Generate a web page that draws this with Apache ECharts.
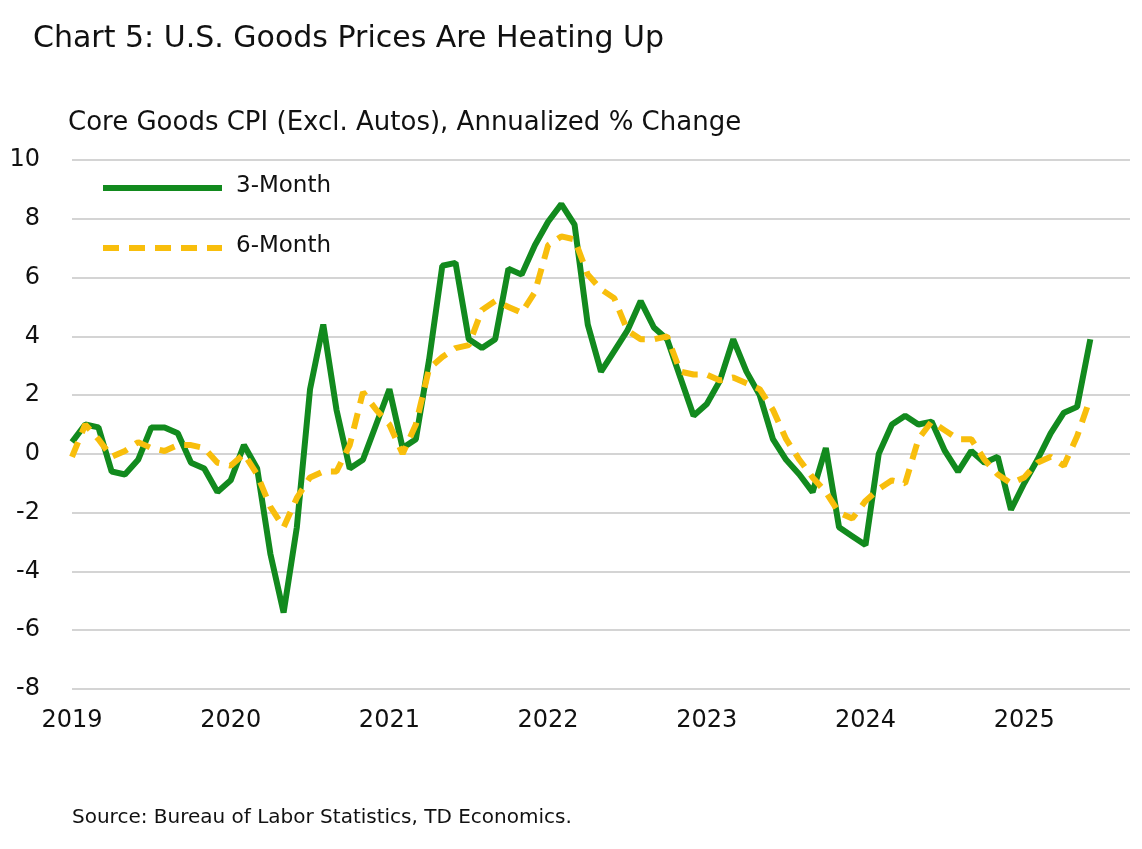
<!DOCTYPE html>
<html><head><meta charset="utf-8">
<script src="https://cdn.jsdelivr.net/npm/echarts@6/dist/echarts.min.js"></script>
<style>html,body{margin:0;padding:0;background:#fff}#c{width:1142px;height:849px}</style>
</head><body><div id="c"></div>
<script>
const startYear = 2019;
const months = 81;
const categories = [];
for (let i = 0; i < months; i++) categories.push((startYear + Math.floor(i / 12)) + '-' + String(i % 12 + 1).padStart(2, '0'));
const threeMonth = [0.4,1.0,0.9,-0.6,-0.7,-0.2,0.9,0.9,0.7,-0.3,-0.5,-1.3,
-0.9,0.3,-0.5,-3.4,-5.4,-2.5,2.2,4.4,1.5,-0.5,-0.2,1.0,
2.2,0.2,0.5,3.2,6.4,6.5,3.9,3.6,3.9,6.3,6.1,7.1,
7.9,8.5,7.8,4.4,2.8,3.5,4.2,5.2,4.3,3.9,2.6,1.3,
1.7,2.5,3.9,2.8,2.0,0.5,-0.2,-0.7,-1.3,0.2,-2.5,-2.8,
-3.1,0.0,1.0,1.3,1.0,1.1,0.1,-0.6,0.1,-0.3,-0.1,-1.9,
-1.0,-0.2,0.7,1.4,1.6,3.9];
const sixMonth = [-0.1,1.0,0.5,-0.1,0.1,0.4,0.2,0.1,0.3,0.3,0.2,-0.3,
-0.4,0.0,-0.7,-1.8,-2.5,-1.5,-0.8,-0.6,-0.6,0.3,2.1,1.5,
1.0,0.0,1.0,2.9,3.3,3.6,3.7,4.9,5.2,5.0,4.8,5.5,
7.1,7.4,7.3,6.1,5.6,5.3,4.2,3.9,3.9,4.0,2.8,2.7,
2.7,2.5,2.6,2.4,2.2,1.5,0.5,-0.2,-0.8,-1.3,-2.0,-2.2,
-1.6,-1.2,-0.9,-1.0,0.5,1.1,0.8,0.5,0.5,-0.2,-0.7,-1.0,
-0.8,-0.3,-0.1,-0.4,0.6,1.9];
const yTicks = [-8,-6,-4,-2,0,2,4,6,8,10];
const font = 'DejaVu Sans';
const green = '#128a1e', yellow = '#f8be0c';
const chart = echarts.init(document.getElementById('c'));
chart.setOption({
  animation: false,
  textStyle: {fontFamily: font, color: '#111'},
  graphic: [
    {type:'text', left: 33, top: 24, style:{text:'Chart 5: U.S. Goods Prices Are Heating Up', font:'30px "DejaVu Sans"', fill:'#111'}},
    {type:'text', left: 68, top: 110, style:{text:'Core Goods CPI (Excl. Autos), Annualized % Change', font:'26px "DejaVu Sans"', fill:'#111'}},
    {type:'text', left: 72, top: 808, style:{text:'Source: Bureau of Labor Statistics, TD Economics.', font:'20px "DejaVu Sans"', fill:'#111'}},
    {type:'line', shape:{x1:103,y1:188,x2:222,y2:188}, style:{stroke:green, lineWidth:6}},
    {type:'text', left: 236, top: 175, style:{text:'3-Month', font:'23px "DejaVu Sans"', fill:'#111'}},
    {type:'line', shape:{x1:103,y1:248,x2:222,y2:248}, style:{stroke:yellow, lineWidth:6, lineDash:[16,10]}},
    {type:'text', left: 236, top: 235, style:{text:'6-Month', font:'23px "DejaVu Sans"', fill:'#111'}}
  ],
  grid: {left: 72, right: 12, top: 160, bottom: 160},
  xAxis: {type:'category', data: categories, boundaryGap: false,
    axisLine:{show:false}, axisTick:{show:false},
    axisLabel:{interval: (i) => i % 12 === 0, formatter: (v) => v.slice(0,4), fontSize: 24, color:'#111', margin: 20}},
  yAxis: {type:'value', min: yTicks[0], max: yTicks[yTicks.length-1], interval: 2,
    axisLabel:{fontSize: 24, color:'#111', margin: 32},
    splitLine:{lineStyle:{color:'#d4d4d4', width: 2}}},
  series: [
    {name:'3-Month', type:'line', data: threeMonth, showSymbol:false, symbol:'none', lineStyle:{color:green, width: 6}, itemStyle:{color:green}, z:2},
    {name:'6-Month', type:'line', data: sixMonth, showSymbol:false, symbol:'none', lineStyle:{color:yellow, width: 6, type:[16,10]}, itemStyle:{color:yellow}, z:3}
  ]
});
</script></body></html>
